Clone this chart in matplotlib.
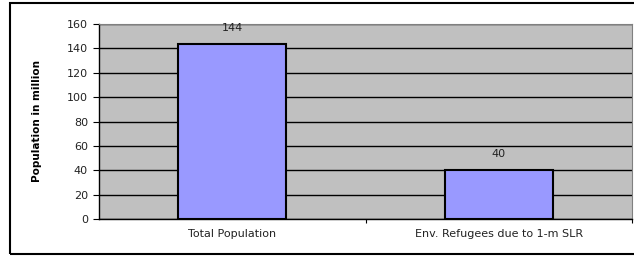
import numpy as np
import matplotlib.pyplot as plt
from matplotlib.patches import Rectangle

# Population data (million)
categories = ['Total Population', 'Env. Refugees due to 1-m SLR']
values = [144, 40]
yticks = [0, 20, 40, 60, 80, 100, 120, 140, 160]

plt.rcParams['font.family'] = ['DejaVu Sans']

fig = plt.figure(figsize=(6.34, 2.56), dpi=100)
ax = fig.add_axes([99 / 634, 1 - 219 / 256, 533 / 634, 195 / 256])

x = np.arange(len(categories))
ax.set_facecolor('#c0c0c0')
ax.bar(x, values, width=0.405, color='#9999ff', edgecolor='black', linewidth=1.5, zorder=3)

ax.set_xlim(-0.5, 1.5)
ax.set_ylim(0, 160)
ax.set_yticks(yticks)
ax.yaxis.grid(True, color='black', linewidth=1)
ax.set_axisbelow(True)
ax.tick_params(axis='y', labelsize=8, length=4, direction='out', color='black', pad=4,
               labelcolor='#222222')

ax.set_xticks([0.5, 1.5])
ax.set_xticklabels([])
ax.tick_params(axis='x', length=3, direction='out')
for xi, name in zip(x, categories):
    ax.text(xi, -8.5, name, ha='center', va='top', fontsize=8, color='#222222')

for xi, v in zip(x, values):
    ax.text(xi, v + 9, str(v), ha='center', va='bottom', fontsize=8, color='#222222')

ax.set_ylabel('Population in million', fontsize=7.5, fontweight='bold', labelpad=18)

for s in ['top', 'right']:
    ax.spines[s].set_color('#808080')
    ax.spines[s].set_linewidth(0.8)
for s in ['left', 'bottom']:
    ax.spines[s].set_color('black')
    ax.spines[s].set_linewidth(1)

# outer chart border
fig.patches.append(Rectangle((10 / 634, 2 / 256), 1.0, 251 / 256, transform=fig.transFigure,
                             fill=False, edgecolor='black', linewidth=1.5))

fig.savefig('out.png', dpi=100)
